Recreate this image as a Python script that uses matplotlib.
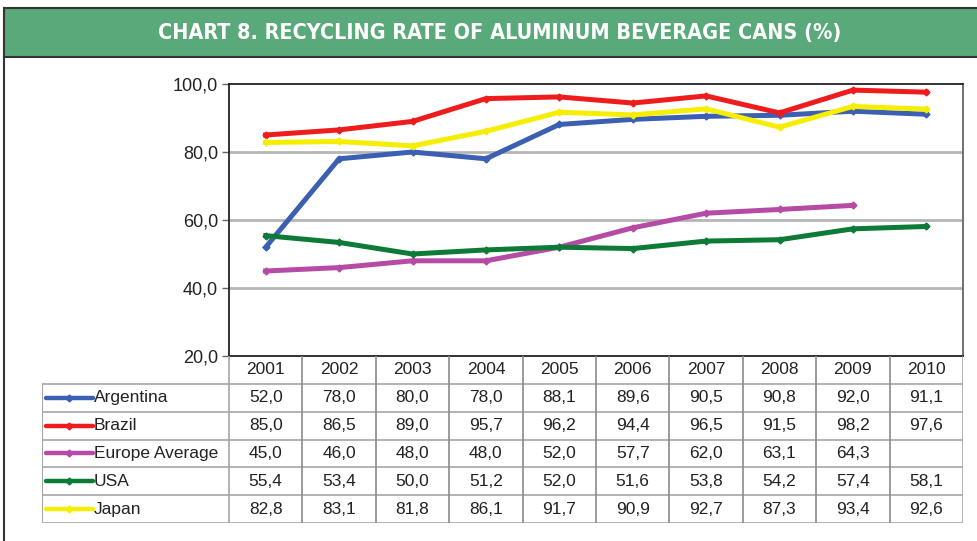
import matplotlib.pyplot as plt
from matplotlib.patches import Rectangle
from matplotlib.ticker import FuncFormatter

years = ['2001', '2002', '2003', '2004', '2005', '2006', '2007', '2008', '2009', '2010']
series_names = ['Argentina', 'Brazil', 'Europe Average', 'USA', 'Japan']
argentina = [52.0, 78.0, 80.0, 78.0, 88.1, 89.6, 90.5, 90.8, 92.0, 91.1]
brazil = [85.0, 86.5, 89.0, 95.7, 96.2, 94.4, 96.5, 91.5, 98.2, 97.6]
europe = [45.0, 46.0, 48.0, 48.0, 52.0, 57.7, 62.0, 63.1, 64.3, None]
usa = [55.4, 53.4, 50.0, 51.2, 52.0, 51.6, 53.8, 54.2, 57.4, 58.1]
japan = [82.8, 83.1, 81.8, 86.1, 91.7, 90.9, 92.7, 87.3, 93.4, 92.6]
colors = ['#3b5fb3', '#ee1c1c', '#b64ba6', '#0d7a36', '#f5ee00']

data = [argentina, brazil, europe, usa, japan]
W, H = 978, 541


def fx(px):
    return px / W


def fy(py):
    return 1 - py / H


def fmt(v):
    return f"{v:.1f}".replace('.', ',')


plt.rcParams['font.family'] = ['Liberation Sans', 'DejaVu Sans']

fig = plt.figure(figsize=(9.78, 5.41), dpi=100)
fig.patch.set_facecolor('white')

# header band
fig.patches.append(Rectangle((fx(4), fy(57)), fx(990) - fx(4), fy(8) - fy(57),
                             transform=fig.transFigure, facecolor='#5aa97a',
                             edgecolor='#333333', lw=1.5))
fig.lines.append(plt.Line2D([fx(4), fx(4)], [fy(57), 0], transform=fig.transFigure,
                            color='#333333', lw=1.5))
fig.text(fx(500), fy(33), 'CHART 8. RECYCLING RATE OF ALUMINUM BEVERAGE CANS (%)',
         ha='center', va='center', color='white', fontsize=15.5, fontweight='bold',
         family='DejaVu Sans', fontstretch='condensed')

# line chart
ax = fig.add_axes([fx(229), fy(356), fx(963) - fx(229), fy(84) - fy(356)])
x = list(range(len(years)))
for name, vals, c in zip(series_names, data, colors):
    xs = [i for i, v in zip(x, vals) if v is not None]
    ys = [v for v in vals if v is not None]
    ax.plot(xs, ys, color=c, lw=3.6, marker='D', ms=3.5, solid_joinstyle='miter', zorder=3)
ax.set_xlim(-0.5, len(years) - 0.5)
ax.set_ylim(20, 100)
ax.set_yticks([20, 40, 60, 80, 100])
ax.yaxis.set_major_formatter(FuncFormatter(lambda v, p: fmt(v)))
ax.set_xticks([])
for y in [40, 60, 80]:
    ax.axhline(y, color='#b5b5b5', lw=2, zorder=1)
for s in ax.spines.values():
    s.set_color('#222222')
    s.set_linewidth(1.3)
ax.spines['right'].set_color('#666666')
ax.tick_params(axis='y', length=5, width=1, color='#666666', labelsize=13, labelcolor='#222222', pad=3)

# data table
L = 187 / 73.4
tx = fig.add_axes([fx(42), fy(523), fx(963) - fx(42), fy(356) - fy(523)])
tx.set_xlim(-0.5 - L, len(years) - 0.5)
tx.set_ylim(0, 6)
tx.axis('off')
gc = '#a5a5a5'
for k in range(6):
    tx.plot([-0.5 - L, len(years) - 0.5], [k, k], color=gc, lw=1.2)
tx.plot([-0.5 - L, -0.5 - L], [0, 5], color=gc, lw=1.5)
for k in range(len(years) + 1):
    tx.plot([k - 0.5, k - 0.5], [0, 6], color='#8a8a8a' if 0 < k < len(years) else gc, lw=1.2)
for i, yr in enumerate(years):
    tx.text(i, 5.5, yr, ha='center', va='center', fontsize=12.5, color='#222222')
for r, (name, vals, c) in enumerate(zip(series_names, data, colors)):
    yc = 4.5 - r
    x0 = -0.5 - L
    tx.plot([x0 + 0.055, x0 + 0.69], [yc, yc], color=c, lw=3.2, solid_capstyle='round')
    tx.plot([x0 + 0.37], [yc], color=c, marker='D', ms=3.5)
    tx.text(x0 + 0.71, yc, name, ha='left', va='center', fontsize=12.5, color='#222222')
    for i, v in enumerate(vals):
        if v is not None:
            tx.text(i, yc, fmt(v), ha='center', va='center', fontsize=12.5, color='#222222')

fig.savefig('out.png', dpi=100)
